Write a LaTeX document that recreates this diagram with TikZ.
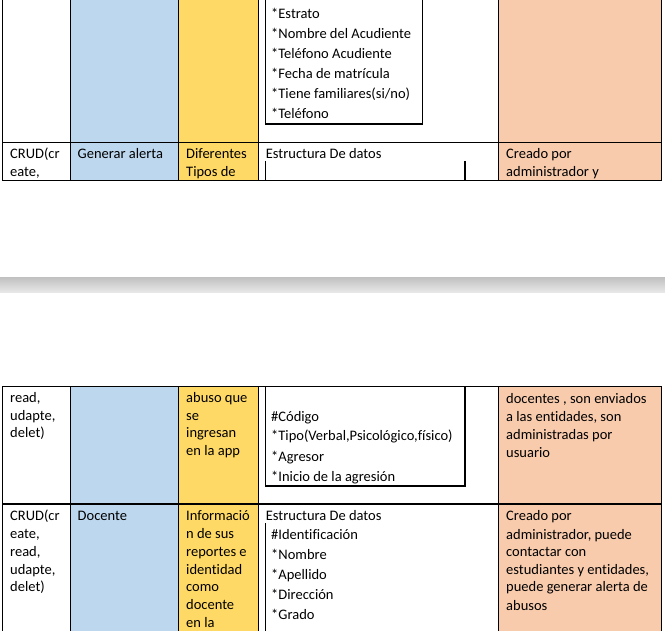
\documentclass[tikz,border=0pt]{standalone}
\usepackage{fontspec}
\setmainfont{Carlito}[Ligatures=NoCommon]
\definecolor{cblue}{HTML}{BDD7EE}
\definecolor{cyellow}{HTML}{FFD966}
\definecolor{cpeach}{HTML}{F8CBAD}
\begin{document}
\begin{tikzpicture}[x=1pt,y=-1pt,
  tx/.style={anchor=base west, inner sep=0pt, font=\fontsize{14.5}{17.7}\selectfont, text=black},
  rule/.style={line width=1.2pt, draw=black, line cap=rect},
  boxline/.style={line width=1.1pt, draw=black}]
\useasboundingbox (0,0) rectangle (665,631);
\fill[white] (0,0) rectangle (665,631);
% ---------- fills ----------
\fill[cblue]   (70.3,0) rectangle (178.3,180.7);
\fill[cyellow] (178.3,0) rectangle (258.3,180.7);
\fill[cpeach]  (498.7,0) rectangle (661.3,180.7);
\fill[cblue]   (70.3,386.7) rectangle (178.3,632);
\fill[cyellow] (178.3,386.7) rectangle (258.3,632);
\fill[cpeach]  (498.7,386.7) rectangle (661.3,632);
% page gap
\shade[top color=black!24, bottom color=black!9] (0,277.7) rectangle (665,292.3);
% ---------- top page ----------
\node[tx] (a1) at (271,19) {*Estrato};
\node[tx] (a2) at (271,39) {*Nombre del Acudiente};
\node[tx] (a3) at (271,59) {*Teléfono Acudiente};
\node[tx] (a4) at (271,79) {*Fecha de matrícula};
\node[tx] (a5) at (271,99) {*Tiene familiares(si/no)};
\node[tx] (a6) at (271,119) {*Teléfono};
\begin{scope}
\clip (0,142) rectangle (665,180.2);
\node[tx] (g11) at (10,159) {CRUD(cr};
\node[tx] (g12) at (10,176.7) {eate,};
\node[tx] (g2) at (77.5,159) {Generar alerta};
\node[tx] (g31) at (186,159) {Diferentes};
\node[tx] (g32) at (186,176.7) {Tipos de};
\node[tx] (g4) at (265.7,159) {Estructura De datos};
\node[tx] (g51) at (506,159) {Creado por};
\node[tx] (g52) at (506,176.7) {administrador y};
\end{scope}
% borders top
\foreach \xx in {2.5,70.3,178.3,258.3,498.7,661.3}
  \draw[rule] (\xx,-2) -- (\xx,180.7);
\draw[rule] (2.5,142.3) -- (661.3,142.3);
\draw[rule] (2.5,180.7) -- (661.3,180.7);
\draw[boxline] (265.3,-2) -- (265.3,124) -- (422.7,124) -- (422.7,-2);
\draw[boxline] (265.3,161) -- (265.3,180.7);
\draw[boxline] (465,161) -- (465,180.7);
% ---------- bottom page ----------
\node[tx] (m11) at (10,402.5) {read,};
\node[tx] (m12) at (10,420.2) {udapte,};
\node[tx] (m13) at (10,437.9) {delet)};
\node[tx] (m31) at (186,402.5) {abuso que};
\node[tx] (m32) at (186,420.2) {se};
\node[tx] (m33) at (186,437.9) {ingresan};
\node[tx] (m34) at (186,455.6) {en la app};
\node[tx] (m41) at (271,421) {\#Código};
\node[tx] (m42) at (271,441) {*Tipo(Verbal,Psicológico,físico)};
\node[tx] (m43) at (271,461) {*Agresor};
\node[tx] (m44) at (271,481.5) {*Inicio de la agresión};
\node[tx] (m51) at (506,403.5) {docentes , son enviados};
\node[tx] (m52) at (506,421.5) {a las entidades, son};
\node[tx] (m53) at (506,439.5) {administradas por};
\node[tx] (m54) at (506,457) {usuario};
% Docente row
\node[tx] (d11) at (10,521) {CRUD(cr};
\node[tx] (d12) at (10,538.7) {eate,};
\node[tx] (d13) at (10,556.4) {read,};
\node[tx] (d14) at (10,574.1) {udapte,};
\node[tx] (d15) at (10,591.8) {delet)};
\node[tx] (d2) at (77.5,521) {Docente};
\node[tx] (d31) at (186,521) {Informació};
\node[tx] (d32) at (186,538.7) {n de sus};
\node[tx] (d33) at (186,556.4) {reportes e};
\node[tx] (d34) at (186,574.1) {identidad};
\node[tx] (d35) at (186,591.8) {como};
\node[tx] (d36) at (186,609.5) {docente};
\node[tx] (d37) at (186,627.2) {en la};
\node[tx] (d4) at (265.7,520.5) {Estructura De datos};
\node[tx] (d41) at (271,539.3) {\#Identificación};
\node[tx] (d42) at (271,559.3) {*Nombre};
\node[tx] (d43) at (271,579.3) {*Apellido};
\node[tx] (d44) at (271,599.3) {*Dirección};
\node[tx] (d45) at (271,619.3) {*Grado};
\node[tx] (d51) at (506,521) {Creado por};
\node[tx] (d52) at (506,539) {administrador, puede};
\node[tx] (d53) at (506,556.7) {contactar con};
\node[tx] (d54) at (506,574.3) {estudiantes y entidades,};
\node[tx] (d55) at (506,591.7) {puede generar alerta de};
\node[tx] (d56) at (506,610) {abusos};
% borders bottom
\foreach \xx in {2.5,70.3,178.3,258.3,498.7,661.3}
  \draw[rule] (\xx,386.7) -- (\xx,634);
\draw[rule] (2.5,386.7) -- (661.3,386.7);
\draw[rule] (2.5,504) -- (661.3,504);
\draw[boxline] (265.3,386.7) -- (265.3,486) -- (465,486) -- (465,386.7);
\draw[boxline] (265.3,523) -- (265.3,634);
\end{tikzpicture}
\end{document}
